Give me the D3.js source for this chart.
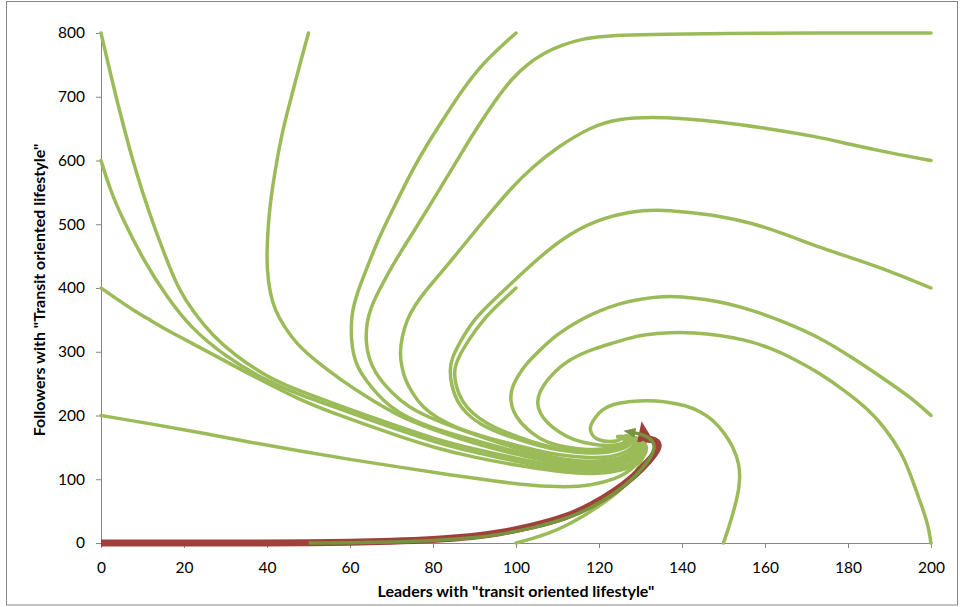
<!DOCTYPE html>
<html><head><meta charset="utf-8">
<script src="https://cdn.jsdelivr.net/npm/d3@7/dist/d3.min.js"></script>
<style>
html,body{margin:0;padding:0;background:#fff;}
svg{display:block;}
text{font-family:Lato,"Open Sans",sans-serif;fill:#000;}
</style></head>
<body>
<script>
// ---- data (leaders x, followers y) ----
const xTicks = [0,20,40,60,80,100,120,140,160,180,200];
const yTicks = [0,100,200,300,400,500,600,700,800];
const xTitle = 'Leaders with "transit oriented lifestyle"';
const yTitle = 'Followers with "Transit oriented lifestyle"';

const trajFrom0_800 = [[0,800],[1.8,750],[3.6,700],[5.6,650],[7.6,601],[10,550],[12.6,500],[15.5,450],[18.5,400],[22.5,360],[27,325],[32,296],[40,260],[48,238],[56,219],[64,200],[72,182],[80,164],[90,147],[100,133],[110,120],[118,115.5],[124,119],[128,129],[130.5,143],[130.5,157],[128.5,165],[125.5,167]];
const trajFrom0_600 = [[0,600],[2.2,554],[5,511],[10.6,439],[15.9,386],[21.4,339],[30,292],[40,254],[48,232],[56,214],[64,195],[72,177],[80,159],[90,142],[100,128],[110,116],[118,112],[124,115],[128.5,125],[131,141],[131,156],[129,164.5],[126,167]];
const trajFrom0_400 = [[0,400],[4,382],[7.8,365],[12,349],[15.9,334],[20,320],[24,306],[36,264],[48,224],[56,204],[64,185],[72,167],[80,150],[90,134],[100,122],[110,112],[118,108],[124,111],[129,122],[131.5,140],[131.5,156],[129.5,165],[126.5,167.5]];
const trajFrom0_200 = [[0,200],[12,187],[24,173],[36,158],[48,144],[60,131],[72,119],[84,107],[96,96],[104,90],[112,87.5],[118,90],[124,100],[128,115],[130.5,135],[131,152],[129.5,164],[126.5,168.5]];
const trajFrom50_800 = [[50,800],[48,753],[46.5,715],[44.8,674],[43.2,630],[42,585],[40.9,540],[40.3,500],[40,462],[40,430],[40.7,392],[42,364],[44,341],[47,313],[52,284],[58,255],[64,229],[72,198],[80,178],[90,156],[100,139],[110,124],[118,119],[124,122.5],[128,132],[130,145],[130,158],[128,165.5],[125.5,167]];
const trajFrom100_800 = [[100,800],[96,777],[91.3,747],[87,710],[83.4,674],[79,630],[75,585],[71,532],[67,480],[64,430],[61.7,392],[60.6,365],[60.3,345],[60.3,320],[60.8,295],[62,273],[64,254],[66.5,234],[69.6,214],[74,196],[80,180],[90,161],[100,143],[110,128],[118,123],[123.5,126],[127.5,135],[129.5,147],[129.5,159],[127.5,165.5],[125,167]];
const trajFrom200_800 = [[200,800],[170,800],[150,799.5],[135,798],[127.5,797],[121,795],[116,791],[111,781],[106.5,768],[102.5,750],[99,728],[96,703],[93,675],[90,645],[87,613],[83,570],[79,527],[75,485],[71,444],[67.5,403],[65,370],[64,345],[63.8,315],[64.5,290],[66,268],[68.5,246],[72,224],[76,206],[81.7,190],[90,170],[100,148],[110,132],[118,127],[123.5,130],[127,138],[129,149],[129,160],[127,166],[125,167]];
const trajFrom200_600 = [[200,600],[190,612],[180,626],[173,637],[160,651],[149,661],[140,666],[133,668],[125,666],[118,653],[110,621],[104,590],[99,558],[93,512],[87,464],[83,432],[79,402],[75.5,372],[73.7,350],[72.5,323],[72,297],[72.5,275],[73.3,256],[75,235],[77.6,212],[81,196],[85.8,180],[92,167],[99,155],[105,145],[110,138],[118,133],[123,135],[126.5,142],[128.5,152],[128.5,161],[126.5,166],[124.5,167]];
const trajFrom200_400 = [[200,400],[190,427],[181,447],[173,464],[165,484],[157,502],[149,513],[141,519],[134,523],[127.5,520],[119.5,507],[111,478],[103,433],[95.4,386],[89.6,350],[86.5,315],[84.5,290],[84,271],[84.5,245],[85.8,222],[88,203],[91.3,186],[96,172],[103,157],[110,145],[118,140],[122.5,142],[126,148],[128,156],[127.5,163],[125.5,167]];
const trajFrom100_400 = [[100,400],[96,376],[92,350],[88.5,318],[86,290],[85,271],[85.5,245],[87,222],[89.5,203],[93,187],[98,172],[104,158],[110,147],[118,142],[122.5,144],[125.5,150],[127.5,157],[127,164],[125,167]];
const trajFrom200_200 = [[200,200],[195,229],[189,256],[181,291],[173,323],[165,346],[157,365],[151,376],[145,383],[140,386.5],[135.4,387],[130,383],[125,376],[120,364],[115.4,350],[110,328],[105.8,303],[102.3,280],[100.2,260],[98.9,242],[98.6,224],[99.4,205],[101,189],[104,171],[107.5,157],[112,150],[117,146],[121.5,147],[125,152],[127,158],[126.5,164],[124.5,166.5]];
const trajFrom200_0 = [[200,0],[199.3,30],[197,72],[195,108],[193,141],[189,180],[185,209],[179,240],[173,267],[167,289],[161,307],[155,319],[149,326],[143,330],[137,330.5],[131,327],[127,321],[123,313],[119,305],[115.4,296],[111,280],[107.5,256],[105.7,238],[105,220],[105.7,204],[107.5,188],[110.5,173],[113.7,162],[118,155],[122,152],[125,154],[126.5,159],[126,164],[124.5,166.5]];
const trajFrom150_0 = [[150,0],[151.3,25],[152.3,47],[153.4,73],[154,99],[153.8,125],[152.3,151],[150.3,172],[147.5,193],[144.5,206],[141,216],[136,222],[131.6,224],[127,222],[123.4,218],[120.8,210],[119.2,198],[118,186],[117.8,177],[118.5,167],[120,161],[122.5,158.5],[124.5,160],[125.5,164]];
const trajFrom100_0 = [[100,0],[104,7],[108.2,15.7],[112,27],[116,41],[120,58],[124.3,78],[127,95],[129.2,114],[130.5,132],[131,150],[130,163],[127.5,167]];
const trajRed = [[0,0],[20,0],[40,0],[50,0.5],[60,1],[70,2.5],[80,5],[90,10],[96,15.7],[104,26],[112.3,41],[118,58],[124.3,83],[128.5,105],[132.3,130],[134.5,150],[134.2,159],[132.5,163],[131,163]];
const trajDarkGreen = [[50,0],[60,0.5],[70,1.5],[80,3.5],[90,8],[96,13],[104,23.5],[112,37.5],[118,54.5],[124.2,79.5],[128.3,101.5],[131.8,126.5],[133.6,149],[133,161],[131,169],[128.5,173]];

const greenSeries = [trajFrom0_800,trajFrom0_600,trajFrom0_400,trajFrom0_200,trajFrom50_800,trajFrom100_800,trajFrom200_800,trajFrom200_600,trajFrom200_400,trajFrom100_400,trajFrom200_200,trajFrom200_0,trajFrom150_0,trajFrom100_0];

// ---- drawing ----
const W = 960, H = 607;
const svg = d3.select("body").append("svg").attr("width", W).attr("height", H);

svg.append("rect").attr("x",6.5).attr("y",1.5).attr("width",951).attr("height",603.5)
  .attr("fill","#fff").attr("stroke","#868686").attr("stroke-width",1);

const x = d3.scaleLinear().domain([0,200]).range([101,931]);
const y = d3.scaleLinear().domain([0,800]).range([543,33]);

const defs = svg.append("defs");
defs.append("marker").attr("id","arrRed").attr("viewBox","0 0 20 16")
  .attr("markerUnits","userSpaceOnUse").attr("markerWidth",20).attr("markerHeight",16)
  .attr("refX",2).attr("refY",8).attr("orient",-100)
  .append("path").attr("d","M0,0L20,8L0,16Z").attr("fill","#A0403B");
defs.append("marker").attr("id","arrGreen").attr("viewBox","0 0 12 10")
  .attr("markerUnits","userSpaceOnUse").attr("markerWidth",12).attr("markerHeight",10)
  .attr("refX",1).attr("refY",5).attr("orient",190)
  .append("path").attr("d","M0,0L12,5L0,10Z").attr("fill","#77933C");

// axes
const yAxis = d3.axisLeft(y).tickValues(yTicks).tickSize(5).tickPadding(11).tickFormat(d3.format("d"));
const xAxis = d3.axisBottom(x).tickValues(xTicks).tickSize(5).tickPadding(14).tickFormat(d3.format("d"));
const gy = svg.append("g").attr("transform","translate(101,0)").call(yAxis);
const gx = svg.append("g").attr("transform","translate(0,543)").call(xAxis);
[gx,gy].forEach(g=>{
  g.selectAll("path.domain").attr("stroke","#868686").attr("stroke-width",1);
  g.selectAll(".tick line").attr("stroke","#868686");
  g.selectAll(".tick text").attr("font-family","Lato, 'Open Sans', sans-serif").attr("font-size",15.5).attr("fill","#000");
});

const line = d3.line().x(d=>x(d[0])).y(d=>y(d[1])).curve(d3.curveBasis);
const plot = svg.append("g");
plot.selectAll("path.traj").data(greenSeries).join("path").attr("class","traj")
  .attr("d", line).attr("fill","none").attr("stroke","#9BBB59").attr("stroke-width",3.5)
  .attr("stroke-linecap","round").attr("stroke-linejoin","round");
plot.append("path").datum(trajRed).attr("d",line).attr("fill","none")
  .attr("stroke","#A0403B").attr("stroke-width",7).attr("marker-end","url(#arrRed)");
plot.append("path").datum(trajDarkGreen).attr("d",line).attr("fill","none")
  .attr("stroke","#77933C").attr("stroke-width",3.5).attr("marker-end","url(#arrGreen)");

// titles
svg.append("text").attr("x",516).attr("y",597).attr("text-anchor","middle")
  .attr("font-size",16).attr("font-weight","bold").text(xTitle);
svg.append("text").attr("transform","translate(45,290) rotate(-90)").attr("text-anchor","middle")
  .attr("font-size",16).attr("font-weight","bold").text(yTitle);
</script>
</body></html>
